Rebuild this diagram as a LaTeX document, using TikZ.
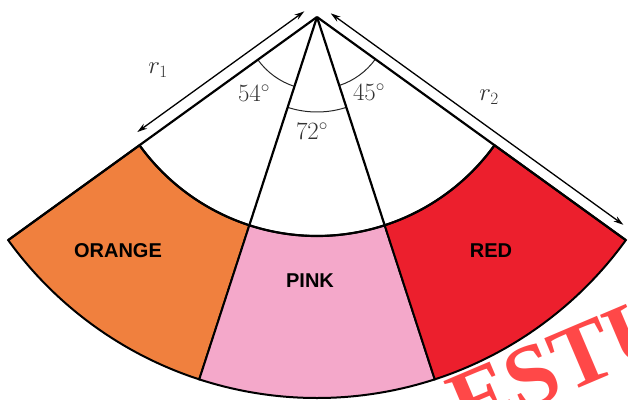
\documentclass[tikz,border=0pt]{standalone}
\usepackage{fontspec}
\newfontfamily\lblfont{Liberation Sans}
\newfontfamily\wmfont{Liberation Serif}
\usetikzlibrary{arrows.meta,calc}
\definecolor{cOrange}{RGB}{240,128,62}
\definecolor{cPink}{RGB}{244,168,202}
\definecolor{cRed}{RGB}{236,31,45}
\definecolor{cMark}{RGB}{255,72,72}
\tikzset{
  edge/.style={line width=2.2pt, black},
  region/.style={line width=2pt, draw=black},
  dimline/.style={line width=1.3pt, {Stealth[length=10pt,width=6pt]}-{Stealth[length=10pt,width=6pt]}},
  anglearc/.style={line width=1pt, black!85},
  anglelbl/.style={text=black!80, font=\fontsize{25}{28}\selectfont, inner sep=0pt},
  colorlbl/.style={font=\lblfont\bfseries\fontsize{20}{22}\selectfont, inner sep=0pt},
}
\begin{document}
\begin{tikzpicture}[x=1pt,y=1pt]
\useasboundingbox (0,0) rectangle (628,399);
\coordinate (A) at (317,382);
\def\ri{219}
\def\ro{381}
\begin{scope}[shift={(A)}]
  % regions
  \filldraw[region, fill=cOrange] (215.85:\ri) -- (215.85:\ro) arc[start angle=215.85, end angle=252, radius=\ro pt] -- (252:\ri) arc[start angle=252, end angle=215.85, radius=\ri pt] -- cycle;
  \filldraw[region, fill=cPink] (252:\ri) -- (252:\ro) arc[start angle=252, end angle=288, radius=\ro pt] -- (288:\ri) arc[start angle=288, end angle=252, radius=\ri pt] -- cycle;
  \filldraw[region, fill=cRed] (288:\ri) -- (288:\ro) arc[start angle=288, end angle=324.15, radius=\ro pt] -- (324.15:\ri) arc[start angle=324.15, end angle=288, radius=\ri pt] -- cycle;
  \coordinate (L) at (215.85:\ro);
  \coordinate (R) at (324.15:\ro);
  \coordinate (P1) at (252:\ri);
  \coordinate (P2) at (288:\ri);
  \coordinate (Li) at (215.85:\ri);
  % inner arc
  \draw[edge] (Li) arc[start angle=215.85, end angle=324.15, radius=\ri pt];
  % angle arcs
  \draw[anglearc] (215.85:73) arc[start angle=215.85, end angle=252, radius=73pt];
  \draw[anglearc] (252:95) arc[start angle=252, end angle=288, radius=95pt];
  \draw[anglearc] (288:72) arc[start angle=288, end angle=324.15, radius=72pt];
  % dimension lines
  \coordinate (D1a) at ($(215.85:7)+(125.85:12)$);
  \coordinate (D1b) at ($(215.85:213)+(125.85:12)$);
  \coordinate (D2a) at ($(324.15:9)+(54.15:11)$);
  \coordinate (D2b) at ($(324.15:370)+(54.15:11)$);
\end{scope}
\draw[edge] (A) -- (L);
\draw[edge] (A) -- (R);
\draw[edge] (A) -- (P1);
\draw[edge] (A) -- (P2);
\draw[dimline] (D1a) -- (D1b);
\draw[dimline] (D2a) -- (D2b);
% labels
\node[anglelbl] (l54) at (254,306) {$54^\circ$};
\node[anglelbl] (l72) at (312,268) {$72^\circ$};
\node[anglelbl] (l45) at (369,307) {$45^\circ$};
\node[anglelbl] (r1) at (158,329) {$r_1$};
\node[anglelbl] (r2) at (489,302) {$r_2$};
\node[colorlbl] (tO) at (118,148) {ORANGE};
\node[colorlbl] (tP) at (310,118) {PINK};
\node[colorlbl] (tR) at (491,148) {RED};
% watermark
\begin{scope}
\clip (0,0) rectangle (628,399);
\node[text=cMark, font=\wmfont\bfseries\fontsize{90}{95}\selectfont, rotate=23, inner sep=0pt] (wm) at (562,35) {ESTU};
\end{scope}
\end{tikzpicture}
\end{document}
